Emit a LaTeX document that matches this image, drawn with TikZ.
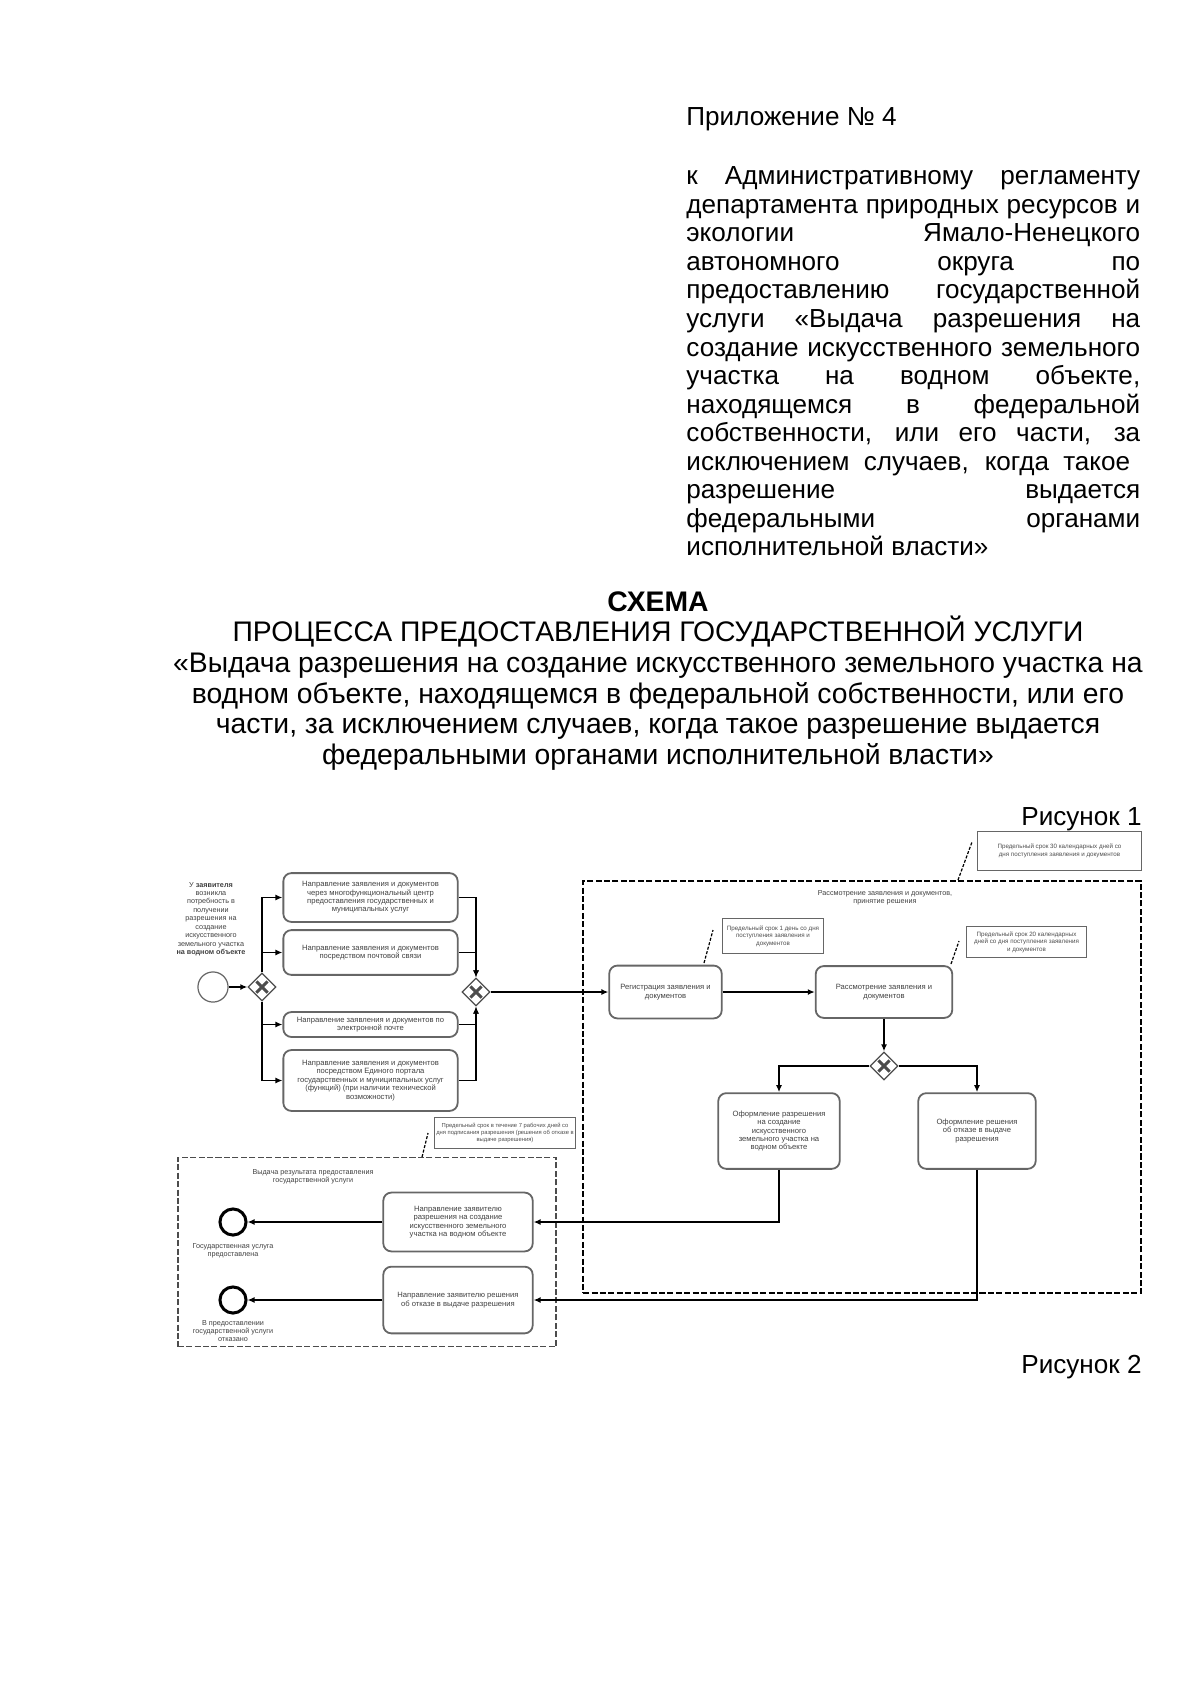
\documentclass[tikz,border=0pt]{standalone}
\usepackage{fontspec}
\setmainfont{Liberation Sans}
\usetikzlibrary{arrows.meta, shapes.geometric, positioning}

% justified line of the header block
\newcommand\jline[1]{\hbox to 226pt{\spaceskip=\fontdimen2\font plus 1fil\relax #1}}

\tikzset{
  flow/.style={draw, line width=0.8pt, -{Latex[length=3.5pt,width=3pt]}},
  task/.style={draw=black!60, line width=0.9pt, rounded corners=4pt, align=center,
    text=black!75, font=\fontsize{3.8}{4.2}\selectfont, inner sep=1pt},
  gate/.style={diamond, draw=black!70, line width=0.6pt, minimum size=14pt, inner sep=0,
    path picture={\draw[line width=1.5pt]
      ([shift={(-2.8pt,-2.8pt)}]path picture bounding box.center) -- ([shift={(2.8pt,2.8pt)}]path picture bounding box.center)
      ([shift={(-2.8pt,2.8pt)}]path picture bounding box.center) -- ([shift={(2.8pt,-2.8pt)}]path picture bounding box.center);}},
  note/.style={draw=black!60, line width=0.5pt, align=center, text=black!70,
    font=\fontsize{3.1}{3.7}\selectfont, inner sep=1pt},
  small/.style={align=center, text=black!75, font=\fontsize{3.6}{4.2}\selectfont, inner sep=0},
  assoc/.style={line width=0.6pt, dash pattern=on 1.5pt off 0.8pt},
  lane/.style={draw, line width=1.2pt, dash pattern=on 3pt off 1.2pt, inner sep=0},
  lanethin/.style={draw=black!70, line width=0.8pt, dash pattern=on 3pt off 1.2pt, inner sep=0},
  hdr/.style={inner sep=0, font=\fontsize{13}{14.1}\selectfont},
  ttl/.style={inner sep=0, font=\fontsize{14.1}{15}\selectfont},
}

\begin{document}
\begin{tikzpicture}[x=0.0175cm, y=-0.0175cm]
  \useasboundingbox (0,0) rectangle (1200,1696);

  % header
  \node[hdr, anchor=base west] (app) at (686,126) {Приложение № 4};
  \foreach \t [count=\i] in {{к Административному регламенту},
      {департамента природных ресурсов и}, {экологии Ямало-Ненецкого},
      {автономного округа по}, {предоставлению государственной},
      {услуги «Выдача разрешения на}, {создание искусственного земельного},
      {участка на водном объекте,}, {находящемся в федеральной},
      {собственности, или его части, за}, {исключением случаев, когда такое\hspace*{5pt}},
      {разрешение выдается}, {федеральными органами},
      {исполнительной власти»\hskip 0pt plus 1fill}}
    \node[hdr, anchor=base west] (hd\i) at (686,{185+28.5*(\i-1)}) {\jline{\t}};

  % title
  \foreach \t [count=\i] in {{\textbf{СХЕМА}},
      {ПРОЦЕССА ПРЕДОСТАВЛЕНИЯ ГОСУДАРСТВЕННОЙ УСЛУГИ},
      {«Выдача разрешения на создание искусственного земельного участка на},
      {водном объекте, находящемся в федеральной собственности, или его},
      {части, за исключением случаев, когда такое разрешение выдается},
      {федеральными органами исполнительной власти»}}
    \node[ttl, anchor=base] (tt\i) at (658,{611+30.7*(\i-1)}) {\t};

  \node[hdr, anchor=base east] (fig1) at (1142,825) {Рисунок 1};
  \node[hdr, anchor=base east] (fig2) at (1142,1373) {Рисунок 2};

  % lanes
  \node[lane, minimum width=277.8pt, minimum height=205.4pt] (review) at (862,1087) {};
  \node[lanethin, minimum width=188.5pt, minimum height=94.2pt] (issue) at (367,1252) {};
  \node[small] (reviewttl) at (885,898) {Рассмотрение заявления и документов,\\принятие решения};
  \node[small] (issuettl) at (313,1177) {Выдача результата предоставления\\государственной услуги};

  % notes
  \node[note, minimum width=81.8pt, minimum height=19.8pt] (n0) at (1059.5,851)
    {Предельный срок 30 календарных дней со\\дня поступления заявления и документов};
  \node[note, minimum width=50pt, minimum height=17.9pt] (n1) at (773,936)
    {Предельный срок 1 день со дня\\поступления заявления и\\документов};
  \node[note, minimum width=60pt, minimum height=15.9pt] (n2) at (1026.5,942)
    {Предельный срок 20 календарных\\дней со дня поступления заявления\\и документов};
  \node[note, minimum width=66pt, minimum height=15.9pt, font=\fontsize{2.9}{3.6}\selectfont] (n3) at (505,1133)
    {Предельный срок в течение 7 рабочих дней со\\дня подписания разрешения (решения об отказе в\\выдаче разрешения)};
  \coordinate (a0) at (958,880); \coordinate (b0) at (972,842);
  \coordinate (a1) at (704,963); \coordinate (b1) at (713,930);
  \coordinate (a2) at (951,964); \coordinate (b2) at (959,941);
  \coordinate (a3) at (422,1157); \coordinate (b3) at (428,1133);
  \foreach \i in {0,...,3} \draw[assoc] (a\i) -- (b\i);

  % submission
  \node[small] (need) at (211,919) {У \textbf{заявителя}\\возникла\\потребность в\\получении\\разрешения на\\создание\\искусственного\\земельного участка\\\textbf{на водном объекте}};
  \node[circle, draw=black!60, line width=0.6pt, minimum size=15pt, inner sep=0] (start) at (213,987) {};
  \node[gate] (gw1) at (262,987) {};
  \node[gate] (gw2) at (476,992) {};
  \node[task, minimum width=86.8pt, minimum height=24.3pt] (mfc) at (370.5,897.5)
    {Направление заявления и документов\\через многофункциональный центр\\предоставления государственных и\\муниципальных услуг};
  \node[task, minimum width=86.8pt, minimum height=22.3pt] (post) at (370.5,952.5)
    {Направление заявления и документов\\посредством почтовой связи};
  \node[task, minimum width=86.8pt, minimum height=12.4pt] (mail) at (370.5,1024.5)
    {Направление заявления и документов по\\электронной почте};
  \node[task, minimum width=86.8pt, minimum height=30.3pt] (epgu) at (370.5,1080.5)
    {Направление заявления и документов\\посредством Единого портала\\государственных и муниципальных услуг\\(функций) (при наличии технической\\возможности)};

  \draw[flow] (start) -- (gw1);
  \foreach \b in {mfc,post} \draw[flow] (gw1.north) |- (\b.west);
  \foreach \b in {mail,epgu} \draw[flow] (gw1.south) |- (\b.west);
  \foreach \b in {mfc,post} \draw[flow] (\b.east) -| (gw2.north);
  \foreach \b in {mail,epgu} \draw[flow] (\b.east) -| (gw2.south);

  % review
  \node[task, minimum width=56pt, minimum height=26.3pt] (reg) at (665.5,992)
    {Регистрация заявления и\\документов};
  \node[task, minimum width=68pt, minimum height=25.8pt] (ras) at (884,992)
    {Рассмотрение заявления и\\документов};
  \node[gate] (gw3) at (884,1066) {};
  \node[task, minimum width=60.5pt, minimum height=37.7pt] (of1) at (779,1131)
    {Оформление разрешения\\на создание\\искусственного\\земельного участка на\\водном объекте};
  \node[task, minimum width=58.5pt, minimum height=37.7pt] (of2) at (977,1131)
    {Оформление решения\\об отказе в выдаче\\разрешения};

  \draw[flow] (gw2.east) -- (reg.west);
  \draw[flow] (reg) -- (ras);
  \draw[flow] (ras) -- (gw3);
  \draw[flow] (gw3.west) -| (of1.north);
  \draw[flow] (gw3.east) -| (of2.north);

  % issue
  \node[task, minimum width=74.4pt, minimum height=29.3pt] (out1) at (458,1222)
    {Направление заявителю\\разрешения на создание\\искусственного земельного\\участка на водном объекте};
  \node[task, minimum width=74.4pt, minimum height=33.2pt] (out2) at (458,1300)
    {Направление заявителю решения\\об отказе в выдаче разрешения};
  \node[circle, draw, line width=1.5pt, minimum size=13pt, inner sep=0] (end1) at (233,1222) {};
  \node[circle, draw, line width=1.5pt, minimum size=13pt, inner sep=0] (end2) at (233,1300) {};
  \node[small] (end1txt) at (233,1251) {Государственная услуга\\предоставлена};
  \node[small] (end2txt) at (233,1331) {В предоставлении\\государственной услуги\\отказано};

  \draw[flow] (of1.south) |- (out1.east);
  \draw[flow] (of2.south) |- (out2.east);
  \draw[flow] (out1) -- (end1);
  \draw[flow] (out2) -- (end2);
\end{tikzpicture}
\end{document}
